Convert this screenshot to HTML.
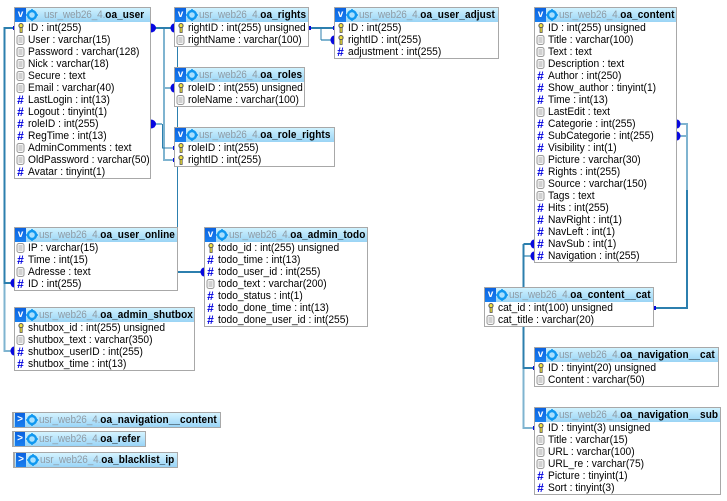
<!DOCTYPE html>
<html><head><meta charset="utf-8">
<style>
html,body{margin:0;padding:0;background:#fff;width:727px;height:501px;overflow:hidden}
body{position:relative;font:11px/12px "Liberation Sans",sans-serif;color:#000}
.t{position:absolute;box-sizing:border-box;border:1px solid #a8a8a8;background:#fff;white-space:nowrap}
.h{position:relative;height:14px;background:linear-gradient(#cff2ff,#9ad4f5);overflow:hidden}
.t.c .h{height:14px;background:linear-gradient(#d4f3ff,#9ad4f7)}
.h b.v{position:absolute;left:0;top:0;width:11px;height:14px;background:linear-gradient(#0a62e0,#1a80f0);color:#fff;font:bold 10px/13px "Liberation Sans",sans-serif;text-align:center}
.t.c .h b.v{left:1px;width:10px}
.h svg{position:absolute;top:1px;width:12px;height:12px}
.h span{position:absolute;top:1px;display:block;transform:scaleX(.91);transform-origin:0 0;color:#8f9ca6;line-height:12px;letter-spacing:-.15px}
.h span b{color:#000;letter-spacing:.1px}
.r{position:relative;height:12px}
.r svg{position:absolute;left:1px;top:1px;width:10px;height:10px}
.r i{position:absolute;left:0;top:0;width:11px;text-align:center;font:bold 12px/12px "Liberation Sans",sans-serif;color:#0000e0}
.r span{position:absolute;left:13px;top:0;display:block;transform:scaleX(.93);transform-origin:0 0}
svg.w{position:absolute;left:0;top:0}
</style></head><body>
<svg width="0" height="0" style="position:absolute"><defs>
<symbol id="key" viewBox="0 0 10 10"><circle cx="5" cy="2.6" r="2.1" fill="#f0e040" stroke="#555" stroke-width="1"/><rect x="4" y="4.5" width="2.2" height="5" fill="#e8d830" stroke="#555" stroke-width=".8"/></symbol>
<symbol id="txt" viewBox="0 0 10 10"><rect x="1" y=".5" width="7" height="9" rx="2" fill="#f8f8f8" stroke="#999"/><path d="M2.500 3h4M2.500 5h4M2.500 7h4" stroke="#aaa"/></symbol>
<symbol id="gear" viewBox="0 0 12 12"><circle cx="6" cy="6" r="4" fill="#a8e0ff" stroke="#1098f0" stroke-width="2.4"/><path d="M6 0v2M6 10v2M0 6h2M10 6h2" stroke="#1098f0" stroke-width="1.6"/></symbol>
</defs></svg>

<svg class="w" width="727" height="501" fill="none" stroke-width="2">
<g stroke="#7fb4d0">
<path d="M4.500 283V351H14"/>
<path d="M164 28V160H174"/>
<path d="M151 124H162"/>
<path d="M164 88H174"/>
<path d="M321 40H334"/>
<path d="M677 124H687V190M677 136H687"/>
<path d="M523.500 368V428H534"/>
<path d="M534 256H523.500"/>
</g>
<g stroke="#2c7fae">
<path d="M14 28H4.500V283H14"/>
<path d="M151 28H174"/>
<path d="M177.500 46V227" stroke-width="1"/>
<path d="M162.500 124V148H174" stroke-width="1"/>
<path d="M309 28H334"/>
<path d="M321 28V40" stroke-width="1"/>
<path d="M178 272H204"/>
<path d="M687 190V308H654"/>
<path d="M523.500 244V287M523.500 327V368H534"/>
<path d="M534 244H523.500"/>
</g>
<g fill="#0808e0" stroke="none">
<path d="M151 23.500a5 4.500 0 0 1 0 9z"/><path d="M151 119.500a5 4.500 0 0 1 0 9z"/>
<path d="M174 23.500a3.500 4.500 0 0 0 0 9z"/><path d="M174 83.500a3.500 4.500 0 0 0 0 9z"/>
<path d="M14 278.500a3.500 4.500 0 0 0 0 9z"/><path d="M14 346.500a3.500 4.500 0 0 0 0 9z"/>
<path d="M204 267.500a3.500 4.500 0 0 0 0 9z"/><path d="M334 35.500a3.500 4.500 0 0 0 0 9z"/>
<path d="M534 239.500a3.500 4.500 0 0 0 0 9z"/><path d="M534 251.500a3.500 4.500 0 0 0 0 9z"/>
<path d="M677 119.500a3.500 4.500 0 0 1 0 9z"/><path d="M677 131.500a3.500 4.500 0 0 1 0 9z"/>
<rect x="309" y="26" width="2" height="4"/><rect x="333" y="26" width="1" height="4"/>
<rect x="13" y="26" width="1" height="4"/><rect x="173" y="146" width="1" height="4"/><rect x="173" y="158" width="1" height="4"/>
<rect x="654" y="306" width="2" height="4"/><rect x="533" y="366" width="1" height="4"/><rect x="533" y="426" width="1" height="4"/>
</g>
</svg>

<!-- oa_user -->
<div class="t" style="left:14px;top:7px;width:137px;height:172px"><div class="h"><b class="v">v</b><svg style="left:11px"><use href="#gear"/></svg><span style="left:29px">usr_web26_4.<b>oa_user</b></span></div>
<div class="r"><svg><use href="#key"/></svg><span>ID : int(255)</span></div>
<div class="r"><svg><use href="#txt"/></svg><span>User : varchar(15)</span></div>
<div class="r"><svg><use href="#txt"/></svg><span>Password : varchar(128)</span></div>
<div class="r"><svg><use href="#txt"/></svg><span>Nick : varchar(18)</span></div>
<div class="r"><svg><use href="#txt"/></svg><span>Secure : text</span></div>
<div class="r"><svg><use href="#txt"/></svg><span>Email : varchar(40)</span></div>
<div class="r"><i>#</i><span>LastLogin : int(13)</span></div>
<div class="r"><i>#</i><span>Logout : tinyint(1)</span></div>
<div class="r"><i>#</i><span>roleID : int(255)</span></div>
<div class="r"><i>#</i><span>RegTime : int(13)</span></div>
<div class="r"><svg><use href="#txt"/></svg><span>AdminComments : text</span></div>
<div class="r"><svg><use href="#txt"/></svg><span>OldPassword : varchar(50)</span></div>
<div class="r"><i>#</i><span>Avatar : tinyint(1)</span></div>
</div>

<!-- oa_rights -->
<div class="t" style="left:174px;top:7px;width:135px;height:40px"><div class="h"><b class="v">v</b><svg style="left:11px"><use href="#gear"/></svg><span style="left:24px">usr_web26_4.<b>oa_rights</b></span></div>
<div class="r"><svg><use href="#key"/></svg><span>rightID : int(255) unsigned</span></div>
<div class="r"><svg><use href="#txt"/></svg><span>rightName : varchar(100)</span></div>
</div>

<!-- oa_roles -->
<div class="t" style="left:174px;top:67px;width:131px;height:40px"><div class="h"><b class="v">v</b><svg style="left:11px"><use href="#gear"/></svg><span style="left:24px">usr_web26_4.<b>oa_roles</b></span></div>
<div class="r"><svg><use href="#key"/></svg><span>roleID : int(255) unsigned</span></div>
<div class="r"><svg><use href="#txt"/></svg><span>roleName : varchar(100)</span></div>
</div>

<!-- oa_role_rights -->
<div class="t" style="left:174px;top:127px;width:161px;height:40px"><div class="h"><b class="v">v</b><svg style="left:11px"><use href="#gear"/></svg><span style="left:24px">usr_web26_4.<b>oa_role_rights</b></span></div>
<div class="r"><svg><use href="#key"/></svg><span>roleID : int(255)</span></div>
<div class="r"><svg><use href="#key"/></svg><span>rightID : int(255)</span></div>
</div>

<!-- oa_user_adjust -->
<div class="t" style="left:334px;top:7px;width:165px;height:52px"><div class="h"><b class="v">v</b><svg style="left:11px"><use href="#gear"/></svg><span style="left:24px">usr_web26_4.<b>oa_user_adjust</b></span></div>
<div class="r"><svg><use href="#key"/></svg><span>ID : int(255)</span></div>
<div class="r"><svg><use href="#key"/></svg><span>rightID : int(255)</span></div>
<div class="r"><i>#</i><span>adjustment : int(255)</span></div>
</div>

<!-- oa_user_online -->
<div class="t" style="left:14px;top:227px;width:164px;height:64px"><div class="h"><b class="v">v</b><svg style="left:11px"><use href="#gear"/></svg><span style="left:24px">usr_web26_4.<b>oa_user_online</b></span></div>
<div class="r"><svg><use href="#txt"/></svg><span>IP : varchar(15)</span></div>
<div class="r"><i>#</i><span>Time : int(15)</span></div>
<div class="r"><svg><use href="#txt"/></svg><span>Adresse : text</span></div>
<div class="r"><i>#</i><span>ID : int(255)</span></div>
</div>

<!-- oa_admin_todo -->
<div class="t" style="left:204px;top:227px;width:164px;height:100px"><div class="h"><b class="v">v</b><svg style="left:11px"><use href="#gear"/></svg><span style="left:24px">usr_web26_4.<b>oa_admin_todo</b></span></div>
<div class="r"><svg><use href="#key"/></svg><span>todo_id : int(255) unsigned</span></div>
<div class="r"><i>#</i><span>todo_time : int(13)</span></div>
<div class="r"><i>#</i><span>todo_user_id : int(255)</span></div>
<div class="r"><svg><use href="#txt"/></svg><span>todo_text : varchar(200)</span></div>
<div class="r"><i>#</i><span>todo_status : int(1)</span></div>
<div class="r"><i>#</i><span>todo_done_time : int(13)</span></div>
<div class="r"><i>#</i><span>todo_done_user_id : int(255)</span></div>
</div>

<!-- oa_admin_shutbox -->
<div class="t" style="left:14px;top:307px;width:181px;height:64px"><div class="h"><b class="v">v</b><svg style="left:11px"><use href="#gear"/></svg><span style="left:24px">usr_web26_4.<b>oa_admin_shutbox</b></span></div>
<div class="r"><svg><use href="#key"/></svg><span>shutbox_id : int(255) unsigned</span></div>
<div class="r"><svg><use href="#txt"/></svg><span>shutbox_text : varchar(350)</span></div>
<div class="r"><i>#</i><span>shutbox_userID : int(255)</span></div>
<div class="r"><i>#</i><span>shutbox_time : int(13)</span></div>
</div>

<!-- oa_content -->
<div class="t" style="left:534px;top:7px;width:143px;height:256px"><div class="h"><b class="v">v</b><svg style="left:11px"><use href="#gear"/></svg><span style="left:24px">usr_web26_4.<b>oa_content</b></span></div>
<div class="r"><svg><use href="#key"/></svg><span>ID : int(255) unsigned</span></div>
<div class="r"><svg><use href="#txt"/></svg><span>Title : varchar(100)</span></div>
<div class="r"><svg><use href="#txt"/></svg><span>Text : text</span></div>
<div class="r"><svg><use href="#txt"/></svg><span>Description : text</span></div>
<div class="r"><i>#</i><span>Author : int(250)</span></div>
<div class="r"><i>#</i><span>Show_author : tinyint(1)</span></div>
<div class="r"><i>#</i><span>Time : int(13)</span></div>
<div class="r"><svg><use href="#txt"/></svg><span>LastEdit : text</span></div>
<div class="r"><i>#</i><span>Categorie : int(255)</span></div>
<div class="r"><i>#</i><span>SubCategorie : int(255)</span></div>
<div class="r"><i>#</i><span>Visibility : int(1)</span></div>
<div class="r"><svg><use href="#txt"/></svg><span>Picture : varchar(30)</span></div>
<div class="r"><i>#</i><span>Rights : int(255)</span></div>
<div class="r"><svg><use href="#txt"/></svg><span>Source : varchar(150)</span></div>
<div class="r"><svg><use href="#txt"/></svg><span>Tags : text</span></div>
<div class="r"><i>#</i><span>Hits : int(255)</span></div>
<div class="r"><i>#</i><span>NavRight : int(1)</span></div>
<div class="r"><i>#</i><span>NavLeft : int(1)</span></div>
<div class="r"><i>#</i><span>NavSub : int(1)</span></div>
<div class="r"><i>#</i><span>Navigation : int(255)</span></div>
</div>

<!-- oa_content__cat -->
<div class="t" style="left:484px;top:287px;width:170px;height:40px"><div class="h"><b class="v">v</b><svg style="left:11px"><use href="#gear"/></svg><span style="left:24px">usr_web26_4.<b>oa_content__cat</b></span></div>
<div class="r"><svg><use href="#key"/></svg><span>cat_id : int(100) unsigned</span></div>
<div class="r"><svg><use href="#txt"/></svg><span>cat_title : varchar(20)</span></div>
</div>

<!-- oa_navigation__cat -->
<div class="t" style="left:534px;top:347px;width:185px;height:40px"><div class="h"><b class="v">v</b><svg style="left:11px"><use href="#gear"/></svg><span style="left:24px">usr_web26_4.<b>oa_navigation__cat</b></span></div>
<div class="r"><svg><use href="#key"/></svg><span>ID : tinyint(20) unsigned</span></div>
<div class="r"><svg><use href="#txt"/></svg><span>Content : varchar(50)</span></div>
</div>

<!-- oa_navigation__sub -->
<div class="t" style="left:534px;top:407px;width:187px;height:88px"><div class="h"><b class="v">v</b><svg style="left:11px"><use href="#gear"/></svg><span style="left:24px">usr_web26_4.<b>oa_navigation__sub</b></span></div>
<div class="r"><svg><use href="#key"/></svg><span>ID : tinyint(3) unsigned</span></div>
<div class="r"><svg><use href="#txt"/></svg><span>Title : varchar(15)</span></div>
<div class="r"><svg><use href="#txt"/></svg><span>URL : varchar(100)</span></div>
<div class="r"><svg><use href="#txt"/></svg><span>URL_re : varchar(75)</span></div>
<div class="r"><i>#</i><span>Picture : tinyint(1)</span></div>
<div class="r"><i>#</i><span>Sort : tinyint(3)</span></div>
</div>

<!-- collapsed -->
<div class="t c" style="left:12px;top:412px;width:209px;height:16px;border-width:1px 1px 1px 2px"><div class="h"><b class="v">&gt;</b><svg style="left:12px"><use href="#gear"/></svg><span style="left:25px">usr_web26_4.<b>oa_navigation__content</b></span></div></div>
<div class="t c" style="left:12px;top:431px;width:134px;height:16px;border-width:1px 1px 1px 2px"><div class="h"><b class="v">&gt;</b><svg style="left:12px"><use href="#gear"/></svg><span style="left:25px">usr_web26_4.<b>oa_refer</b></span></div></div>
<div class="t c" style="left:13px;top:452px;width:165px;height:16px;border-width:1px 1px 1px 2px"><div class="h"><b class="v">&gt;</b><svg style="left:12px"><use href="#gear"/></svg><span style="left:25px">usr_web26_4.<b>oa_blacklist_ip</b></span></div></div>
</body></html>
